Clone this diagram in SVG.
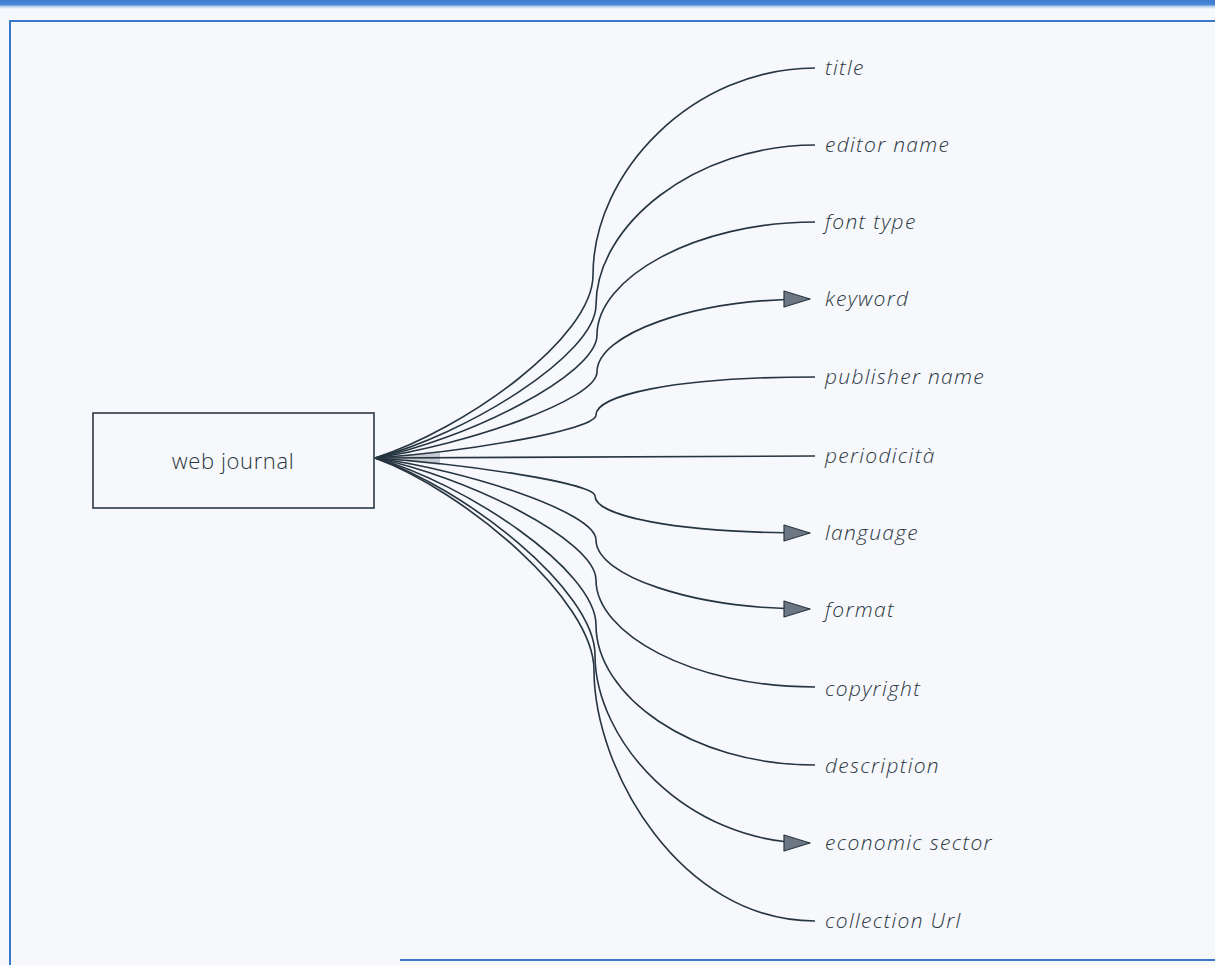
<svg xmlns="http://www.w3.org/2000/svg" width="1215" height="965" viewBox="0 0 1215 965">
  <defs>
    <linearGradient id="band" x1="0" y1="0" x2="0" y2="1">
      <stop offset="0" stop-color="#3d7bd0"/>
      <stop offset="0.45" stop-color="#4a86d6"/>
      <stop offset="1" stop-color="#f5f8fc" stop-opacity="0"/>
    </linearGradient>
    <marker id="tri" viewBox="0 0 28 18" refX="27" refY="9" markerWidth="28" markerHeight="18" markerUnits="userSpaceOnUse" orient="auto">
      <path d="M1,1 L27,9 L1,17 Z" fill="#6d7683" stroke="#2b3945" stroke-width="1.2" stroke-linejoin="round"/>
    </marker>
    <style>
      .frame { stroke: #3a78cc; stroke-width: 2; fill: none; }
      .link { fill: none; stroke: #263540; stroke-width: 1.6; }
      .arrow { marker-end: url(#tri); }
      .box { fill: none; stroke: #2b3945; stroke-width: 1.6; }
      .nodetxt { font-family: "Open Sans", Lato, sans-serif; font-weight: 300; font-size: 22px; letter-spacing: 0.6px; fill: #2b3742; }
      .lbl { font-family: "Open Sans", Lato, sans-serif; font-style: italic; font-weight: 300; font-size: 21px; letter-spacing: 1.3px; fill: #2b3742; }
    </style>
  </defs>

  <!-- paper and frame -->
  <rect x="0" y="0" width="1215" height="965" fill="#f6f8fc"/>
  <rect x="0" y="0" width="1215" height="10" fill="url(#band)"/>
  <path class="frame" d="M10,965 V21 H1215"/>
  <path class="frame" d="M400,960 H1215" stroke-width="1.4"/>

  <!-- source node -->
  <g id="web-journal">
    <rect class="box" x="93" y="413" width="281" height="95"/>
    <text class="nodetxt" x="233" y="469" text-anchor="middle">web journal</text>
  </g>

  <!-- fan of connectors -->
  <g id="connectors">
    <path d="M378,458 L440,451 L440,465 Z" fill="#6d7683" opacity="0.35"/>
    <path class="link" d="M375,458 C465,429 593,338 593,275 C593,172 693,68 815,68"/>
    <path class="link" d="M375,458 C465,435 596,355 596,305 C596,225 695,145 815,145"/>
    <path class="link" d="M375,458 C465,440 597,375 597,335 C597,278 695,222 815,222"/>
    <path class="link arrow" d="M375,458 C465,445 597,400 597,372 C597,335 690,299 810,299"/>
    <path class="link" d="M375,458 C465,452 596,430 596,415 C596,396 670,377 815,377"/>
    <path class="link" d="M375,458 L815,456"/>
    <path class="link arrow" d="M375,458 C465,464 595,483 595,496 C595,515 670,533 810,533"/>
    <path class="link arrow" d="M375,458 C465,470 596,512 596,540 C596,575 690,609 810,609"/>
    <path class="link" d="M375,458 C465,476 596,540 596,580 C596,633 690,687 815,687"/>
    <path class="link" d="M375,458 C465,483 596,570 596,625 C596,695 690,765 815,765"/>
    <path class="link arrow" d="M375,458 C465,488 595,590 595,655 C595,740 685,843 810,843"/>
    <path class="link" d="M375,458 C465,491 594,600 594,670 C594,770 680,921 815,921"/>
  </g>

  <!-- attribute labels -->
  <g id="title"><text class="lbl" x="825" y="75">title</text></g>
  <g id="editor-name"><text class="lbl" x="825" y="152">editor name</text></g>
  <g id="font-type"><text class="lbl" x="825" y="229">font type</text></g>
  <g id="keyword"><text class="lbl" x="825" y="306">keyword</text></g>
  <g id="publisher-name"><text class="lbl" x="825" y="384">publisher name</text></g>
  <g id="periodicita"><text class="lbl" x="825" y="463">periodicità</text></g>
  <g id="language"><text class="lbl" x="825" y="540">language</text></g>
  <g id="format"><text class="lbl" x="825" y="617">format</text></g>
  <g id="copyright"><text class="lbl" x="825" y="696">copyright</text></g>
  <g id="description"><text class="lbl" x="825" y="773">description</text></g>
  <g id="economic-sector"><text class="lbl" x="825" y="850">economic sector</text></g>
  <g id="collection-url"><text class="lbl" x="825" y="928">collection Url</text></g>
</svg>
